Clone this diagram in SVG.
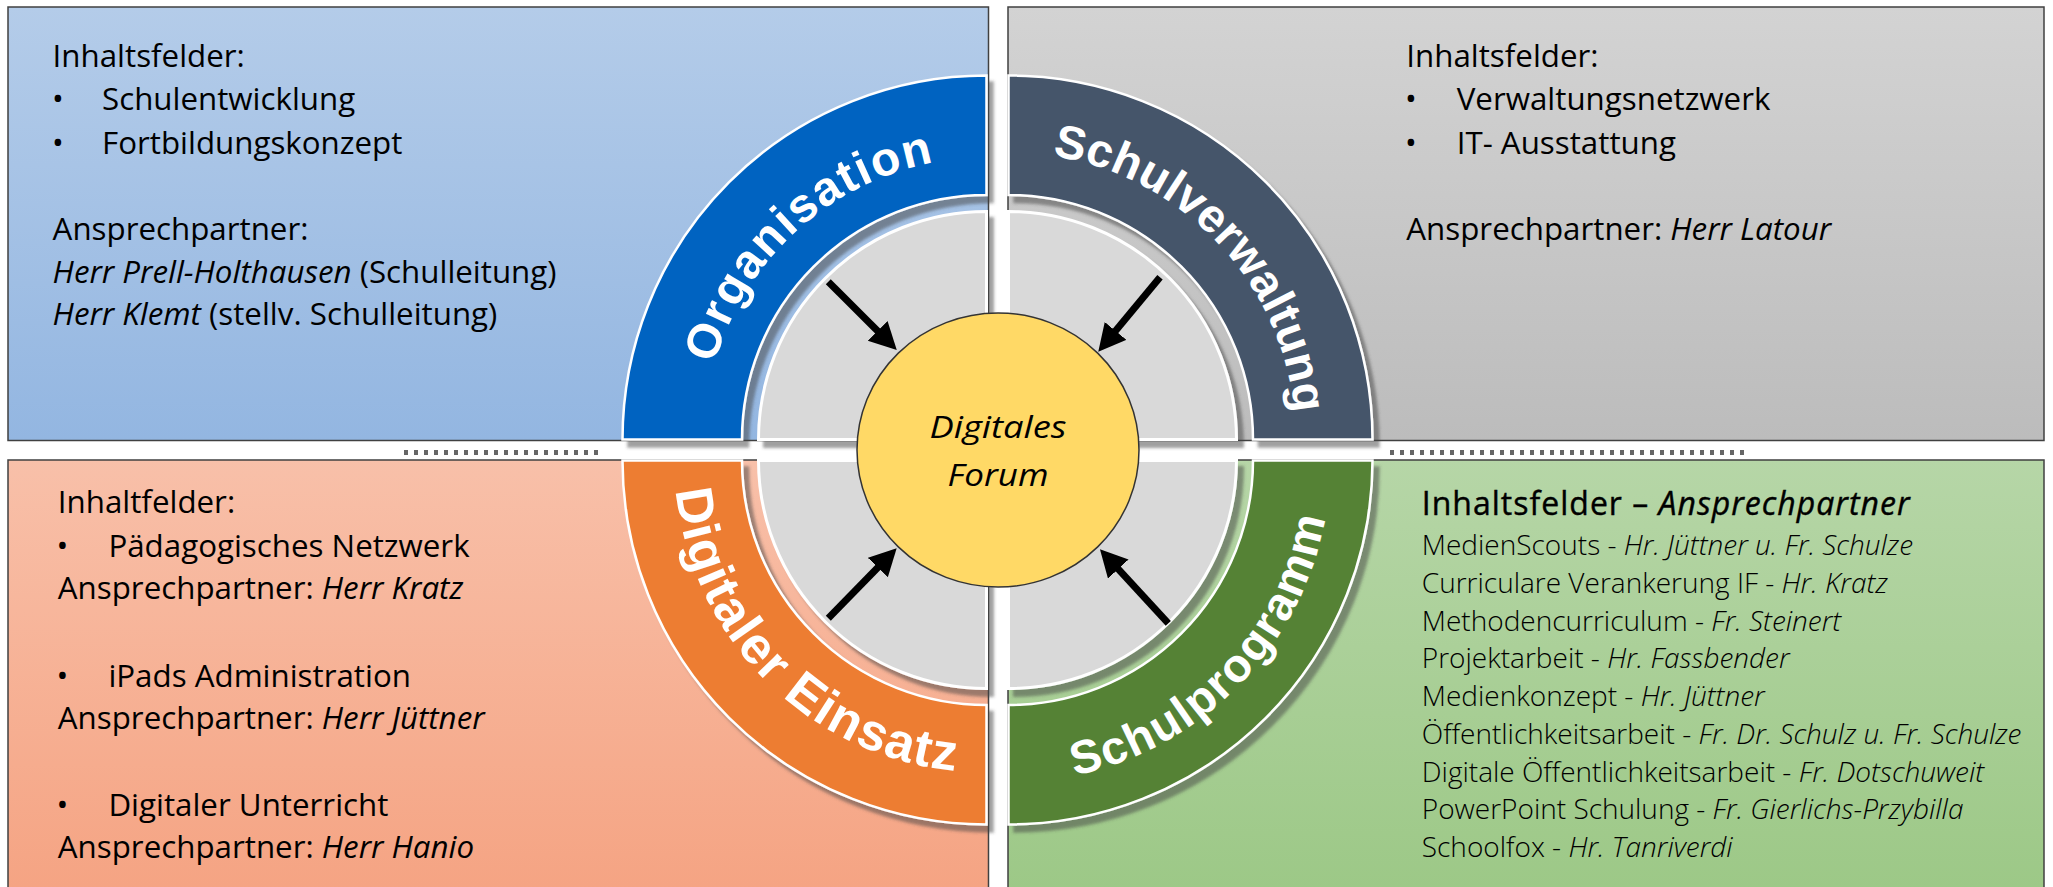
<svg xmlns="http://www.w3.org/2000/svg" xmlns:xlink="http://www.w3.org/1999/xlink" width="2053" height="887" viewBox="0 0 2053 887">
<defs>
<style>
.t{font-family:"Open Sans","Liberation Sans",sans-serif;font-size:31.3px;fill:#000}
.i{font-style:italic}
.l{font-size:28px;font-weight:300}
.h{font-size:32px;letter-spacing:1px;stroke:#000;stroke-width:0.4}
.box{stroke:#404040;stroke-width:1.5}
.band{stroke:#fff;stroke-width:2.5}
.disc{fill:#d9d9d9;stroke:#fff;stroke-width:3}
.bt{font-family:"Liberation Sans",Arial,sans-serif;font-weight:bold;fill:#fff}
.dots{stroke:#666;stroke-width:5;stroke-dasharray:4 6}
.arr{stroke:#000;stroke-width:7;fill:none;marker-end:url(#ah)}
</style>
<linearGradient id="gTL" x1="0" y1="0" x2="0" y2="1"><stop offset="0" stop-color="#b4cce9"/><stop offset="1" stop-color="#93b6e1"/></linearGradient>
<linearGradient id="gTR" x1="0" y1="0" x2="0" y2="1"><stop offset="0" stop-color="#d3d3d3"/><stop offset="1" stop-color="#bcbcbc"/></linearGradient>
<linearGradient id="gBL" x1="0" y1="0" x2="0" y2="1"><stop offset="0" stop-color="#f8c0a9"/><stop offset="1" stop-color="#f5a382"/></linearGradient>
<linearGradient id="gBR" x1="0" y1="0" x2="0" y2="1"><stop offset="0" stop-color="#b6d6a7"/><stop offset="1" stop-color="#9cc886"/></linearGradient>
<filter id="sh" x="-10%" y="-10%" width="130%" height="130%"><feDropShadow dx="6" dy="7" stdDeviation="1.5" flood-color="#404040" flood-opacity="0.5"/></filter>
<marker id="ah" markerUnits="userSpaceOnUse" markerWidth="30" markerHeight="30" refX="6" refY="14" orient="auto"><path d="M0,0 L27,14 L0,28 Z" fill="#000"/></marker>
<path id="pOrg" d="M704.5,439.5 A282,282 0 0 1 986.5,157.5"/>
<path id="pSv" d="M1008.5,152.5 A287,287 0 0 1 1295.5,439.5"/>
<path id="pDe" d="M674.5,460.5 A312,312 0 0 0 986.5,772.5"/>
<path id="pSp" d="M1008.5,782.5 A322,322 0 0 0 1330.5,460.5"/>
</defs>

<g id="box-organisation">
<rect class="box" x="8" y="7" width="980.5" height="433.5" fill="url(#gTL)"/>
<text class="t" x="52.6" y="67">Inhaltsfelder:</text>
<text class="t" x="58" y="110" text-anchor="middle">•</text><text class="t" x="102" y="110">Schulentwicklung</text>
<text class="t" x="58" y="154" text-anchor="middle">•</text><text class="t" x="102" y="154">Fortbildungskonzept</text>
<text class="t" x="52.6" y="240">Ansprechpartner:</text>
<text class="t" x="52.6" y="283"><tspan class="i">Herr Prell-Holthausen</tspan> (Schulleitung)</text>
<text class="t" x="52.6" y="325"><tspan class="i">Herr Klemt</tspan> (stellv. Schulleitung)</text>
</g>

<g id="box-schulverwaltung">
<rect class="box" x="1008" y="7" width="1036" height="433.5" fill="url(#gTR)"/>
<text class="t" x="1406.3" y="67">Inhaltsfelder:</text>
<text class="t" x="1411" y="110" text-anchor="middle">•</text><text class="t" x="1456.7" y="110">Verwaltungsnetzwerk</text>
<text class="t" x="1411" y="154" text-anchor="middle">•</text><text class="t" x="1456.7" y="154">IT- Ausstattung</text>
<text class="t" x="1406.3" y="240">Ansprechpartner: <tspan class="i">Herr Latour</tspan></text>
</g>

<g id="box-digitaler-einsatz">
<rect class="box" x="8" y="460" width="980.5" height="440" fill="url(#gBL)"/>
<text class="t" x="57.8" y="513.3">Inhaltfelder:</text>
<text class="t" x="62.4" y="556.7" text-anchor="middle">•</text><text class="t" x="108.4" y="556.7">Pädagogisches Netzwerk</text>
<text class="t" x="57.8" y="599.3">Ansprechpartner: <tspan class="i">Herr Kratz</tspan></text>
<text class="t" x="62.4" y="686.7" text-anchor="middle">•</text><text class="t" x="108.4" y="686.7">iPads Administration</text>
<text class="t" x="57.8" y="729.3">Ansprechpartner: <tspan class="i">Herr Jüttner</tspan></text>
<text class="t" x="62.4" y="816" text-anchor="middle">•</text><text class="t" x="108.4" y="816">Digitaler Unterricht</text>
<text class="t" x="57.8" y="858.3">Ansprechpartner: <tspan class="i">Herr Hanio</tspan></text>
</g>

<g id="box-schulprogramm">
<rect class="box" x="1008" y="460" width="1036" height="440" fill="url(#gBR)"/>
<text class="t h" x="1421.8" y="515">Inhaltsfelder – <tspan class="i">Ansprechpartner</tspan></text>
<text class="t l" x="1421.8" y="555">MedienScouts - <tspan class="i">Hr. Jüttner u. Fr. Schulze</tspan></text>
<text class="t l" x="1421.8" y="592.7">Curriculare Verankerung IF - <tspan class="i">Hr. Kratz</tspan></text>
<text class="t l" x="1421.8" y="630.5">Methodencurriculum - <tspan class="i">Fr. Steinert</tspan></text>
<text class="t l" x="1421.8" y="668.3">Projektarbeit - <tspan class="i">Hr. Fassbender</tspan></text>
<text class="t l" x="1421.8" y="706">Medienkonzept - <tspan class="i">Hr. Jüttner</tspan></text>
<text class="t l" x="1421.8" y="744">Öffentlichkeitsarbeit - <tspan class="i">Fr. Dr. Schulz u. Fr. Schulze</tspan></text>
<text class="t l" x="1421.8" y="781.7">Digitale Öffentlichkeitsarbeit - <tspan class="i">Fr. Dotschuweit</tspan></text>
<text class="t l" x="1421.8" y="819.3">PowerPoint Schulung - <tspan class="i">Fr. Gierlichs-Przybilla</tspan></text>
<text class="t l" x="1421.8" y="856.7">Schoolfox - <tspan class="i">Hr. Tanriverdi</tspan></text>
</g>

<g id="separators">
<line class="dots" x1="404" y1="452.5" x2="602" y2="452.5"/>
<line class="dots" x1="1390" y1="452.5" x2="1750" y2="452.5"/>
</g>

<g id="ring-organisation">
<path class="disc" filter="url(#sh)" d="M986.5,439.5 L758.5,439.5 A228,228 0 0 1 986.5,211.5 Z"/>
<path class="band" filter="url(#sh)" fill="#0563c1" d="M622.5,439.5 A364,364 0 0 1 986.5,75.5 L986.5,195 A244.5,244.5 0 0 0 742,439.5 Z"/>
<text class="bt" font-size="48" letter-spacing="1.6"><textPath xlink:href="#pOrg" href="#pOrg" startOffset="52.8%" text-anchor="middle">Organisation</textPath></text>
</g>

<g id="ring-schulverwaltung">
<path class="disc" filter="url(#sh)" d="M1008.5,439.5 L1008.5,211.5 A228,228 0 0 1 1236.5,439.5 Z"/>
<path class="band" filter="url(#sh)" fill="#44546a" d="M1008.5,75.5 A364,364 0 0 1 1372.5,439.5 L1253,439.5 A244.5,244.5 0 0 0 1008.5,195 Z"/>
<text class="bt" font-size="47" letter-spacing="0.3"><textPath xlink:href="#pSv" href="#pSv" startOffset="52%" text-anchor="middle">Schulverwaltung</textPath></text>
</g>

<g id="ring-digitaler-einsatz">
<path class="disc" filter="url(#sh)" d="M986.5,460.5 L758.5,460.5 A228,228 0 0 0 986.5,688.5 Z"/>
<path class="band" filter="url(#sh)" fill="#ed7d31" d="M622.5,460.5 A364,364 0 0 0 986.5,824.5 L986.5,705 A244.5,244.5 0 0 1 742,460.5 Z"/>
<text class="bt" font-size="52" letter-spacing="1.5"><textPath xlink:href="#pDe" href="#pDe" startOffset="50%" text-anchor="middle">Digitaler Einsatz</textPath></text>
</g>

<g id="ring-schulprogramm">
<path class="disc" filter="url(#sh)" d="M1008.5,460.5 L1236.5,460.5 A228,228 0 0 1 1008.5,688.5 Z"/>
<path class="band" filter="url(#sh)" fill="#548235" d="M1008.5,824.5 A364,364 0 0 0 1372.5,460.5 L1253,460.5 A244.5,244.5 0 0 1 1008.5,705 Z"/>
<text class="bt" font-size="47" letter-spacing="1.7"><textPath xlink:href="#pSp" href="#pSp" startOffset="51%" text-anchor="middle">Schulprogramm</textPath></text>
</g>

<g id="connectors">
<line class="arr" x1="828.3" y1="281.7" x2="881.9" y2="335.2"/>
<line class="arr" x1="1160" y1="277.3" x2="1111.7" y2="335.5"/>
<line class="arr" x1="828.3" y1="618.3" x2="882" y2="563.3"/>
<line class="arr" x1="1168.3" y1="623.3" x2="1114.2" y2="564.7"/>
</g>

<g id="digitales-forum">
<ellipse cx="998" cy="450" rx="141" ry="137" fill="#ffd966" stroke="#333" stroke-width="1.5"/>
<text class="t i" x="929.5" y="438.3" font-size="37" textLength="137" lengthAdjust="spacingAndGlyphs">Digitales</text>
<text class="t i" x="947.5" y="486" font-size="37" textLength="101" lengthAdjust="spacingAndGlyphs">Forum</text>
</g>
</svg>
